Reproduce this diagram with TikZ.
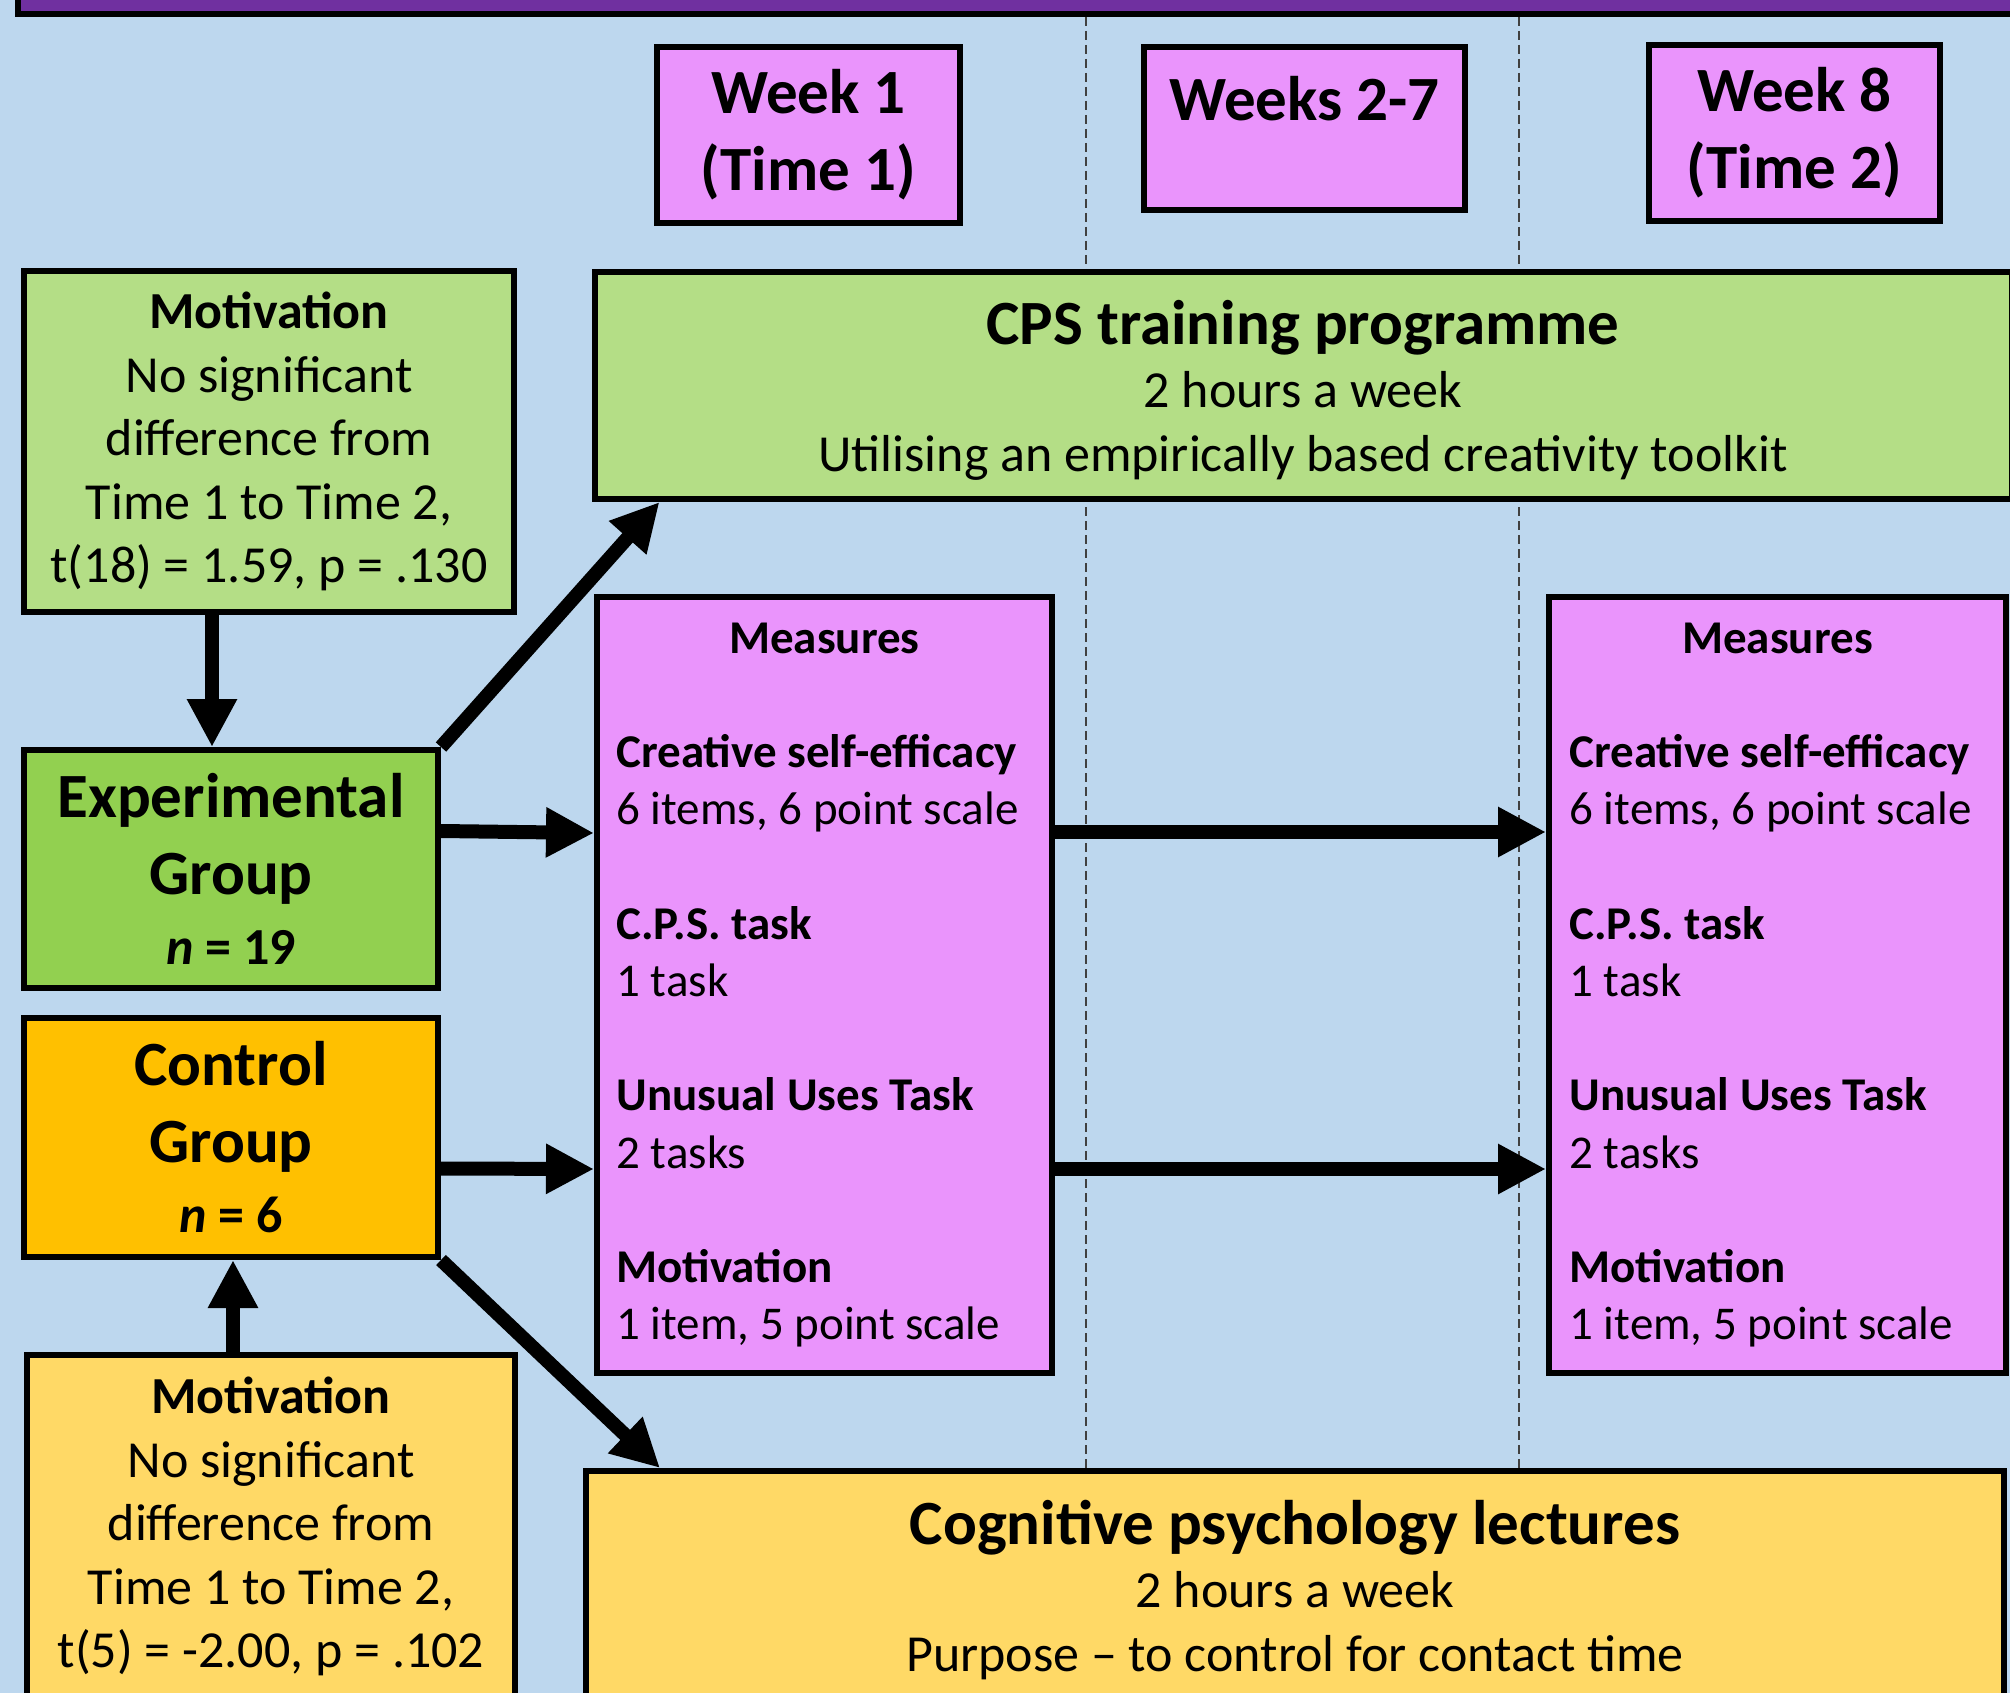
\documentclass[tikz,border=0pt]{standalone}
\usepackage{fontspec}
\setmainfont{Carlito}
\usetikzlibrary{arrows.meta}

\definecolor{bgblue}{HTML}{BDD7EE}
\definecolor{barpurple}{HTML}{7030A0}
\definecolor{palegreen}{HTML}{B4DE86}
\definecolor{expgreen}{HTML}{92D050}
\definecolor{ctrlorange}{HTML}{FFC000}
\definecolor{paleyellow}{HTML}{FFD966}
\definecolor{measpink}{HTML}{EA94FC}

\newcommand\hdfont{\fontsize{63}{77}\selectfont\bfseries}
\newcommand\txfont{\fontsize{52}{63.5}\selectfont}
\newcommand\msfont{\fontsize{47}{57.3}\selectfont}

\begin{document}
\begin{tikzpicture}[x=1pt, y=-1pt,
  box/.style={draw, line width=6pt, inner sep=0pt},
  arr/.style={line width=14pt, -{Triangle[length=48pt,width=47pt]}},
  dashline/.style={draw=black!75, line width=1.5pt, dash pattern=on 9pt off 5pt}]

\useasboundingbox (0,0) rectangle (2010,1693);
\clip (0,0) rectangle (2010,1693);
\fill[bgblue] (0,0) rectangle (2010,1693);

% top bar and week separators
\filldraw[fill=barpurple, draw=black, line width=6pt] (17.5,-40) rectangle (2050,14);
\draw[dashline] (1086,17) -- (1086,1468);
\draw[dashline] (1519,17) -- (1519,1468);

% weeks
\node[box, fill=measpink, minimum width=303pt, minimum height=176pt, align=center, font=\hdfont] (wk1) at (808.5,135) {Week 1\\(Time 1)};
\node[box, fill=measpink, minimum width=321pt, minimum height=163pt] (wk27) at (1304.5,128.5) {};
\node[font=\hdfont] (wk27t) at (1304.5,99) {Weeks 2-7};
\node[box, fill=measpink, minimum width=291pt, minimum height=176pt, align=center, font=\hdfont] (wk8) at (1794.5,133) {Week 8\\(Time 2)};

% groups
\node[box, fill=palegreen, minimum width=490pt, minimum height=341pt, align=center, font=\txfont] (motE) at (269,441.5)
  {\textbf{Motivation}\\No significant\\difference from\\Time 1 to Time 2,\\t(18) = 1.59, p = .130};
\node[box, fill=expgreen, minimum width=414pt, minimum height=238pt, align=center, font=\hdfont] (expg) at (231,869)
  {Experimental\\Group\\[-7pt]{\txfont\bfseries\textit{n} = 19}};
\node[box, fill=ctrlorange, minimum width=414pt, minimum height=239pt, align=center, font=\hdfont] (ctrl) at (231,1137.5)
  {Control\\Group\\[-7pt]{\txfont\bfseries\textit{n} = 6}};
\node[box, fill=paleyellow, minimum width=488pt, minimum height=343pt, align=center, font=\txfont] (motC) at (271,1526.5)
  {\textbf{Motivation}\\No significant\\difference from\\Time 1 to Time 2,\\t(5) = -2.00, p = .102};

% programmes
\node[box, fill=palegreen, minimum width=1417pt, minimum height=227pt, align=center, font=\txfont, text depth=0pt] (cps) at (1303,385.5)
  {{\hdfont CPS training programme}\\2 hours a week\\Utilising an empirically based creativity toolkit};
\node[box, fill=paleyellow, minimum width=1418pt, minimum height=238pt, align=center, font=\txfont] (lect) at (1295,1590)
  {{\hdfont Cognitive psychology lectures}\\2 hours a week\\Purpose -- to control for contact time};

% measures
\node[box, fill=measpink, minimum width=455pt, minimum height=776pt, text width=416pt, align=flush left, font=\msfont] (meas1) at (824.5,985)
  {\makebox[\linewidth]{\textbf{Measures}}\\[57pt]
   \textbf{Creative self-efficacy}\\6 items, 6 point scale\\[57pt]
   \textbf{C.P.S. task}\\1 task\\[57pt]
   \textbf{Unusual Uses Task}\\2 tasks\\[57pt]
   \textbf{Motivation}\\1 item, 5 point scale};
\node[box, fill=measpink, minimum width=457pt, minimum height=776pt, text width=416pt, align=flush left, font=\msfont] (meas2) at (1777.5,985)
  {\makebox[\linewidth]{\textbf{Measures}}\\[57pt]
   \textbf{Creative self-efficacy}\\6 items, 6 point scale\\[57pt]
   \textbf{C.P.S. task}\\1 task\\[57pt]
   \textbf{Unusual Uses Task}\\2 tasks\\[57pt]
   \textbf{Motivation}\\1 item, 5 point scale};

% arrows
\draw[arr] ([xshift=-57pt]motE.south) -- ([xshift=-19pt]expg.north);
\draw[arr] ([xshift=-38pt]motC.north) -- ([xshift=2pt]ctrl.south);
\draw[arr] (expg.north east) -- ([xshift=68pt]cps.south west);
\draw[arr] (ctrl.south east) -- ([xshift=77pt]lect.north west);
\draw[arr] ([yshift=38pt]expg.east) -- ([yshift=152pt]meas1.west);
\draw[arr] ([yshift=-31pt]ctrl.east) -- ([yshift=-184pt]meas1.west);
\draw[arr] ([yshift=153pt]meas1.east) -- ([yshift=153pt]meas2.west);
\draw[arr] ([yshift=-184pt]meas1.east) -- ([yshift=-184pt]meas2.west);
\end{tikzpicture}
\end{document}
